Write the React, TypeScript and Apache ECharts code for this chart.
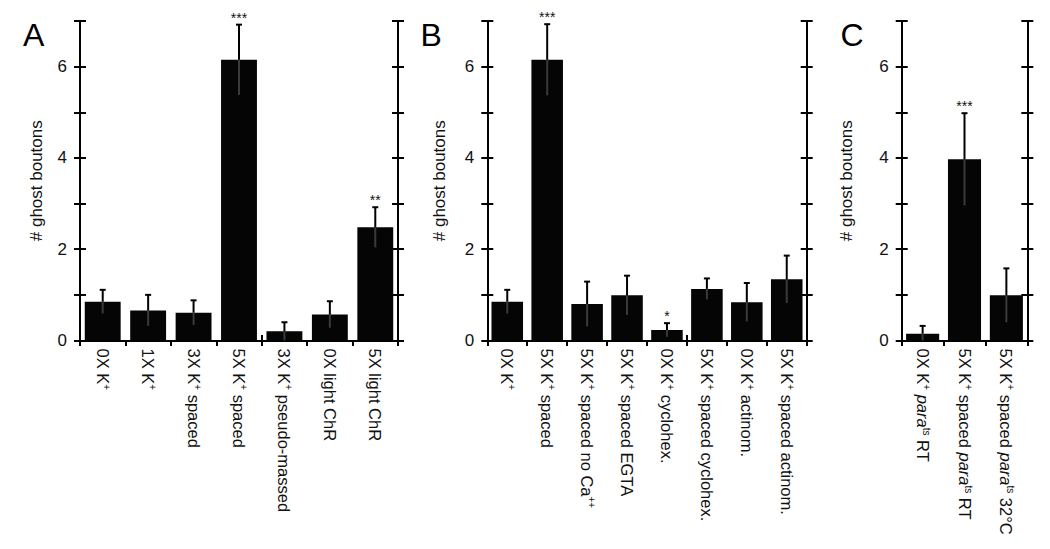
import React, { useEffect, useRef } from "react";
import * as echarts from "echarts";

const catsA = ["0X K⁺", "1X K⁺", "3X K⁺ spaced", "5X K⁺ spaced", "3X K⁺ pseudo-massed", "0X light ChR", "5X light ChR"];
const meansA = [0.85, 0.66, 0.61, 6.15, 0.2, 0.57, 2.48];
const errA = [0.26, 0.34, 0.27, 0.77, 0.2, 0.29, 0.44];
const starsA = ["", "", "", "***", "", "", "**"];

const catsB = ["0X K⁺", "5X K⁺ spaced", "5X K⁺ spaced no Ca⁺⁺", "5X K⁺ spaced EGTA", "0X K⁺ cyclohex.", "5X K⁺ spaced cyclohex.", "0X K⁺ actinom.", "5X K⁺ spaced actinom."];
const meansB = [0.85, 6.15, 0.8, 0.99, 0.23, 1.13, 0.84, 1.34];
const errB = [0.26, 0.78, 0.49, 0.43, 0.15, 0.23, 0.42, 0.52];
const starsB = ["", "***", "", "", "*", "", "", ""];

const catsC = ["0X K⁺ paraᵗˢ RT", "5X K⁺ spaced paraᵗˢ RT", "5X K⁺ spaced paraᵗˢ 32°C"];
const meansC = [0.15, 3.97, 0.99];
const errC = [0.17, 1.01, 0.59];
const starsC = ["", "***", ""];

const panelLetters = ["A", "B", "C"];
const yTitle = "# ghost boutons";
const yMin = 0;
const yMax = 7;
const yStep = 1;

const FONT = "'Liberation Sans', Arial, Helvetica, sans-serif";

const toRich = (s: string) =>
  s
    .replace(/para/g, "{it|para}")
    .replace(/ᵗˢ/g, "{sup|ts}")
    .replace(/⁺+/g, (m) => "{sup|" + "+".repeat(m.length) + "}");

export default function App() {
  const ref = useRef<HTMLDivElement>(null);
  useEffect(() => {
    if (!ref.current) return;
    const chart = echarts.init(ref.current, undefined, { renderer: "svg" });

    const panels = [
      { cats: catsA, means: meansA, errs: errA, stars: starsA, left: 80, width: 318, gap: 35 },
      { cats: catsB, means: meansB, errs: errB, stars: starsB, left: 487.3, width: 319.4, gap: 39 },
      { cats: catsC, means: meansC, errs: errC, stars: starsC, left: 901.7, width: 125.6, gap: 47 },
    ];
    const top = 21;
    const height = 319.5;

    const grids: any[] = [];
    const xAxes: any[] = [];
    const yAxes: any[] = [];
    const series: any[] = [];

    const lineStyle = { color: "#000", width: 2 };
    const baseY = {
      type: "value",
      min: yMin,
      max: yMax,
      interval: yStep,
      splitLine: { show: false },
    };

    panels.forEach((p, i) => {
      grids.push({ left: p.left, top, width: p.width, height });
      xAxes.push({
        type: "category",
        gridIndex: i,
        position: "bottom",
        data: p.cats,
        axisLine: { show: true, lineStyle },
        axisTick: { show: true, length: 5.5, lineStyle },
        axisLabel: {
          rotate: -90,
          margin: 8,
          color: "#111",
          fontSize: 16.5,
          fontFamily: FONT,
          interval: 0,
          formatter: (v: string) => toRich(v),
          rich: {
            sup: { fontSize: 10, verticalAlign: "top", fontFamily: FONT, color: "#111", lineHeight: 18 },
            it: { fontSize: 16.5, fontStyle: "italic", fontFamily: FONT, color: "#111", lineHeight: 18 },
          },
        },
      });
      xAxes.push({
        type: "category",
        gridIndex: i,
        position: "bottom",
        data: p.cats,
        axisLine: { show: false },
        axisTick: { show: true, inside: true, length: 5.5, lineStyle },
        axisLabel: { show: false },
      });
      yAxes.push({
        ...baseY,
        gridIndex: i,
        position: "left",
        name: yTitle,
        nameLocation: "middle",
        nameRotate: 90,
        nameGap: p.gap,
        nameTextStyle: { fontSize: 17, fontFamily: FONT, color: "#111" },
        axisLine: { show: true, lineStyle },
        axisTick: { show: true, length: 6, lineStyle },
        axisLabel: {
          margin: 13,
          fontSize: 17,
          fontFamily: FONT,
          color: "#111",
          formatter: (v: number) => (v % 2 === 0 ? String(v) : ""),
        },
      });
      yAxes.push({
        ...baseY,
        gridIndex: i,
        position: "left",
        axisLine: { show: false },
        axisTick: { show: true, inside: true, length: 6, lineStyle },
        axisLabel: { show: false },
      });
      yAxes.push({
        ...baseY,
        gridIndex: i,
        position: "right",
        axisLine: { show: true, lineStyle },
        axisTick: { show: true, length: 6, lineStyle },
        axisLabel: { show: false },
      });
      yAxes.push({
        ...baseY,
        gridIndex: i,
        position: "right",
        axisLine: { show: false },
        axisTick: { show: true, inside: true, length: 6, lineStyle },
        axisLabel: { show: false },
      });

      series.push({
        type: "bar",
        xAxisIndex: 2 * i,
        yAxisIndex: 4 * i,
        data: p.means,
        barCategoryGap: "21%",
        itemStyle: { color: "#050505" },
        z: 2,
      });
      series.push({
        type: "custom",
        xAxisIndex: 2 * i,
        yAxisIndex: 4 * i,
        z: 3,
        encode: { x: 0, y: 1 },
        data: p.means.map((m, k) => [k, m, p.errs[k], p.stars[k]]),
        renderItem: (params: any, api: any) => {
          const k = api.value(0);
          const m = api.value(1);
          const e = api.value(2);
          const star = p.stars[k];
          const pTop = api.coord([k, m + e]);
          const pMid = api.coord([k, m]);
          const pLow = api.coord([k, Math.max(0, m - e)]);
          const children: any[] = [
            { type: "line", shape: { x1: pMid[0], y1: pMid[1], x2: pLow[0], y2: pLow[1] }, style: { stroke: "#3a3a3a", lineWidth: 2 } },
            { type: "line", shape: { x1: pTop[0], y1: pTop[1], x2: pMid[0], y2: pMid[1] }, style: { stroke: "#000", lineWidth: 2 } },
            { type: "line", shape: { x1: pTop[0] - 3, y1: pTop[1], x2: pTop[0] + 3, y2: pTop[1] }, style: { stroke: "#000", lineWidth: 2 } },
          ];
          if (star) {
            children.push({
              type: "text",
              style: {
                text: star,
                x: pTop[0],
                y: pTop[1] - 7,
                align: "center",
                verticalAlign: "middle",
                fontSize: 14,
                fontFamily: FONT,
                fill: "#111",
              },
            });
          }
          return { type: "group", children };
        },
      });
    });

    const letterX = [23, 420.5, 840.5];
    const graphic = panelLetters.map((t, i) => ({
      type: "text",
      left: letterX[i],
      top: 19,
      style: { text: t, fontSize: 32, fontFamily: FONT, fill: "#000" },
    }));

    chart.setOption({
      animation: false,
      backgroundColor: "#fff",
      grid: grids,
      xAxis: xAxes,
      yAxis: yAxes,
      series,
      graphic,
    });
    return () => chart.dispose();
  }, []);
  return <div ref={ref} style={{ position: "fixed", left: 0, top: 0, width: 1050, height: 549 }} />;
}
